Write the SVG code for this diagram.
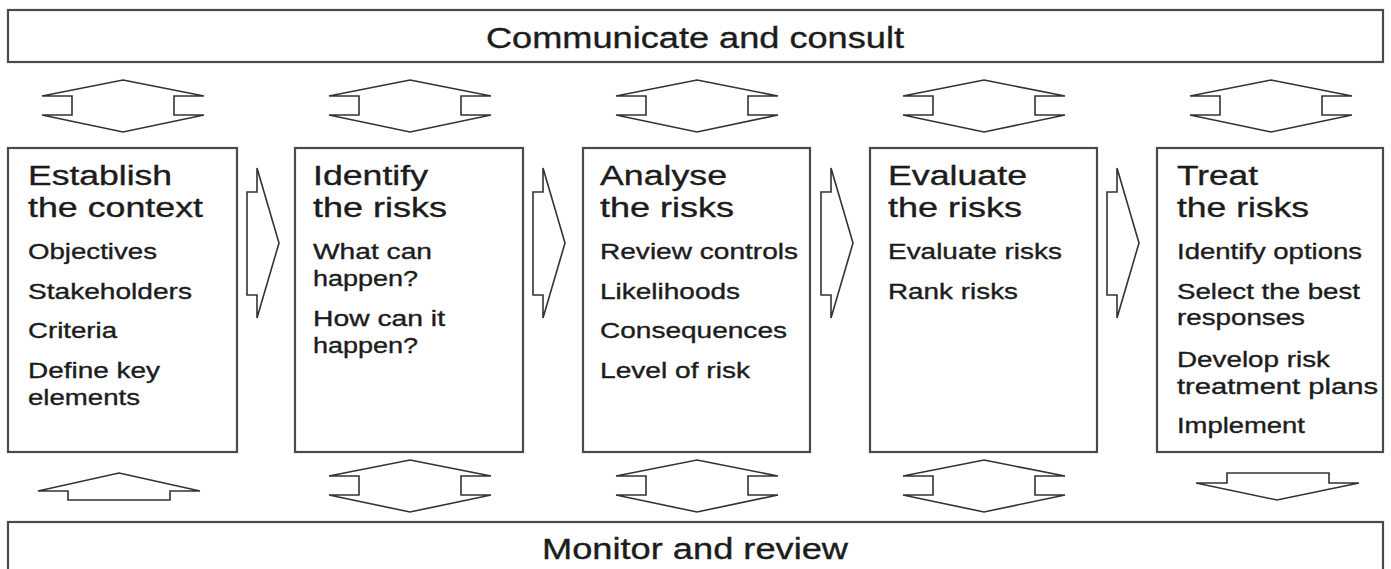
<svg xmlns="http://www.w3.org/2000/svg" width="1391" height="569" viewBox="0 0 1391 569">
<style>
.box{fill:#fff;stroke:#4a4a4a;stroke-width:2.2}
.arr{fill:#fff;stroke:#333;stroke-width:1.6;stroke-linejoin:miter}
text{font-family:"Liberation Sans",Arial,Helvetica,sans-serif;fill:#1c1c1c;stroke:#1c1c1c;stroke-width:0.35}
.hd{font-size:29px}
.t{font-size:27px}
.s{font-size:22px}
</style>
<defs>
<path id="dbl" d="M0,0 L81,16 L51,16 L51,35 L81,35 L0,52 L-81,35 L-51,35 L-51,16 L-81,16 Z"/>
<path id="rgt" d="M0,24 L10,24 L10,0 L32,75 L10,150 L10,127 L0,127 Z"/>
</defs>
<rect width="1391" height="569" fill="#fff"/>
<g id="communicate">
<rect class="box" x="8" y="10" width="1375" height="52"/>
<text class="hd" x="695" y="48" text-anchor="middle" textLength="418" lengthAdjust="spacingAndGlyphs">Communicate and consult</text>
</g>
<g id="monitor">
<rect class="box" x="8" y="522" width="1375" height="70"/>
<text class="hd" x="695" y="559" text-anchor="middle" textLength="306" lengthAdjust="spacingAndGlyphs">Monitor and review</text>
</g>
<g id="establish">
<rect class="box" x="8" y="148" width="229" height="304"/>
<text class="t" x="28" y="185" textLength="144" lengthAdjust="spacingAndGlyphs">Establish</text>
<text class="t" x="28" y="217" textLength="175" lengthAdjust="spacingAndGlyphs">the context</text>
<text class="s" x="28" y="259" textLength="129" lengthAdjust="spacingAndGlyphs">Objectives</text>
<text class="s" x="28" y="299" textLength="164" lengthAdjust="spacingAndGlyphs">Stakeholders</text>
<text class="s" x="28" y="338" textLength="89" lengthAdjust="spacingAndGlyphs">Criteria</text>
<text class="s" x="28" y="378" textLength="132" lengthAdjust="spacingAndGlyphs">Define key</text>
<text class="s" x="28" y="405" textLength="112" lengthAdjust="spacingAndGlyphs">elements</text>
</g>
<g id="identify">
<rect class="box" x="295" y="148" width="228" height="304"/>
<text class="t" x="313" y="185" textLength="115" lengthAdjust="spacingAndGlyphs">Identify</text>
<text class="t" x="313" y="217" textLength="134" lengthAdjust="spacingAndGlyphs">the risks</text>
<text class="s" x="313" y="259" textLength="119" lengthAdjust="spacingAndGlyphs">What can</text>
<text class="s" x="313" y="286" textLength="105" lengthAdjust="spacingAndGlyphs">happen?</text>
<text class="s" x="313" y="326" textLength="132" lengthAdjust="spacingAndGlyphs">How can it</text>
<text class="s" x="313" y="353" textLength="105" lengthAdjust="spacingAndGlyphs">happen?</text>
</g>
<g id="analyse">
<rect class="box" x="583" y="148" width="227" height="304"/>
<text class="t" x="600" y="185" textLength="127" lengthAdjust="spacingAndGlyphs">Analyse</text>
<text class="t" x="600" y="217" textLength="134" lengthAdjust="spacingAndGlyphs">the risks</text>
<text class="s" x="600" y="259" textLength="198" lengthAdjust="spacingAndGlyphs">Review controls</text>
<text class="s" x="600" y="299" textLength="140" lengthAdjust="spacingAndGlyphs">Likelihoods</text>
<text class="s" x="600" y="338" textLength="187" lengthAdjust="spacingAndGlyphs">Consequences</text>
<text class="s" x="600" y="378" textLength="150" lengthAdjust="spacingAndGlyphs">Level of risk</text>
</g>
<g id="evaluate">
<rect class="box" x="870" y="148" width="227" height="304"/>
<text class="t" x="888" y="185" textLength="139" lengthAdjust="spacingAndGlyphs">Evaluate</text>
<text class="t" x="888" y="217" textLength="134" lengthAdjust="spacingAndGlyphs">the risks</text>
<text class="s" x="888" y="259" textLength="174" lengthAdjust="spacingAndGlyphs">Evaluate risks</text>
<text class="s" x="888" y="299" textLength="130" lengthAdjust="spacingAndGlyphs">Rank risks</text>
</g>
<g id="treat">
<rect class="box" x="1157" y="148" width="226" height="304"/>
<text class="t" x="1177" y="185" textLength="81" lengthAdjust="spacingAndGlyphs">Treat</text>
<text class="t" x="1177" y="217" textLength="132" lengthAdjust="spacingAndGlyphs">the risks</text>
<text class="s" x="1177" y="259" textLength="185" lengthAdjust="spacingAndGlyphs">Identify options</text>
<text class="s" x="1177" y="299" textLength="183" lengthAdjust="spacingAndGlyphs">Select the best</text>
<text class="s" x="1177" y="325" textLength="128" lengthAdjust="spacingAndGlyphs">responses</text>
<text class="s" x="1177" y="367" textLength="153" lengthAdjust="spacingAndGlyphs">Develop risk</text>
<text class="s" x="1177" y="394" textLength="201" lengthAdjust="spacingAndGlyphs">treatment plans</text>
<text class="s" x="1177" y="433" textLength="128" lengthAdjust="spacingAndGlyphs">Implement</text>
</g>
<g id="connectors">
<use href="#dbl" class="arr" x="123" y="80"/>
<use href="#dbl" class="arr" x="410" y="80"/>
<use href="#dbl" class="arr" x="697" y="80"/>
<use href="#dbl" class="arr" x="984" y="80"/>
<use href="#dbl" class="arr" x="1271" y="80"/>
<use href="#rgt" class="arr" x="247" y="168"/>
<use href="#rgt" class="arr" x="533" y="168"/>
<use href="#rgt" class="arr" x="821" y="168"/>
<use href="#rgt" class="arr" x="1107" y="168"/>
<path class="arr" d="M119,473 L200,491 L170,491 L170,500 L68,500 L68,491 L38,491 Z"/>
<use href="#dbl" class="arr" x="410" y="460"/>
<use href="#dbl" class="arr" x="697" y="460"/>
<use href="#dbl" class="arr" x="984" y="460"/>
<path class="arr" d="M1227,473 L1329,473 L1329,483 L1359,483 L1277,500 L1196,483 L1227,483 Z"/>
</g>
</svg>
